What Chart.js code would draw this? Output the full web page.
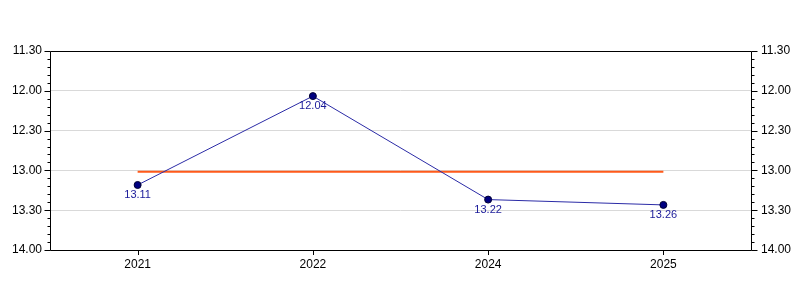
<!DOCTYPE html>
<html>
<head>
<meta charset="utf-8">
<script src="https://cdn.jsdelivr.net/npm/chart.js@4"></script>
<style>
  html, body { margin: 0; padding: 0; background: #fff; }
  #wrap { width: 800px; height: 300px; }
</style>
</head>
<body>
<div id="wrap"><canvas id="chart" width="800" height="300"></canvas></div>
<script>
// race times, in seconds (13.11 = 13 min 11 s)
const years = ["2021", "2022", "2024", "2025"];
const times = [791, 724, 802, 806];
const meanLine = [781, 781, 781, 781];
const yMin = 690, yMax = 840, majorStep = 30, minorStep = 6;

function fmt(sec) {
    const m = Math.floor(sec / 60);
    const s = Math.round(sec - m * 60);
    return m + "." + String(s).padStart(2, "0");
}

const FONT = "'Liberation Sans', Arial, sans-serif";

// frame, axis tick marks (major + minor) and point labels
const framePlugin = {
    id: "frame",
    afterDatasetsDraw(chart) {
        const { ctx, chartArea: a } = chart;
        const y = chart.scales.y;
        const x = chart.scales.x;
        ctx.save();
        ctx.strokeStyle = "#000";
        ctx.lineWidth = 1;
        ctx.beginPath();
        ctx.rect(Math.round(a.left) + 0.5, Math.round(a.top) + 0.5,
                 Math.round(a.right - a.left), Math.round(a.bottom - a.top));
        for (let v = yMin; v <= yMax; v += minorStep) {
            const py = Math.round(y.getPixelForValue(v)) + 0.5;
            const len = (v - yMin) % majorStep === 0 ? 6 : 3;
            ctx.moveTo(Math.round(a.left) + 0.5, py);
            ctx.lineTo(Math.round(a.left) + 0.5 - len, py);
            ctx.moveTo(Math.round(a.right) + 0.5, py);
            ctx.lineTo(Math.round(a.right) + 0.5 + len, py);
        }
        years.forEach((_, i) => {
            const px = Math.round(x.getPixelForValue(i)) + 0.5;
            ctx.moveTo(px, Math.round(a.bottom) + 0.5);
            ctx.lineTo(px, Math.round(a.bottom) + 5);
        });
        ctx.stroke();

        // value labels under the points
        const meta = chart.getDatasetMeta(0);
        ctx.fillStyle = "#1a1a99";
        ctx.font = "11px " + FONT;
        ctx.textAlign = "center";
        ctx.textBaseline = "middle";
        meta.data.forEach((pt, i) => {
            ctx.fillText(fmt(times[i]), pt.x, pt.y + 10);
        });
        ctx.restore();
    }
};

new Chart(document.getElementById("chart"), {
    type: "line",
    data: {
        labels: years,
        datasets: [
            {
                data: times,
                borderColor: "#2b2ba6",
                borderWidth: 1,
                pointRadius: 3.5,
                pointBackgroundColor: "#000080",
                pointBorderColor: "#000033",
                pointBorderWidth: 1,
                tension: 0,
                order: 1
            },
            {
                data: meanLine,
                borderColor: "#ff5a1a",
                borderWidth: 2,
                pointRadius: 0,
                tension: 0,
                order: 2
            }
        ]
    },
    options: {
        responsive: false,
        animation: false,
        layout: { padding: { top: 51, right: 0, bottom: 0, left: 0 } },
        plugins: { legend: { display: false }, tooltip: { enabled: false } },
        scales: {
            x: {
                offset: true,
                grid: { display: false, drawTicks: false },
                border: { display: false },
                ticks: { color: "#000", font: { family: FONT, size: 12 }, padding: 7, maxRotation: 0 },
                afterFit(s) { s.height = 50; }
            },
            y: {
                reverse: true,
                min: yMin, max: yMax,
                grid: {
                    drawTicks: false,
                    color: (c) => (c.tick && (c.tick.value === yMin || c.tick.value === yMax)) ? "rgba(0,0,0,0)" : "#d9d9d9"
                },
                border: { display: false },
                ticks: { stepSize: majorStep, callback: (v) => fmt(v), color: "#000", font: { family: FONT, size: 12 }, padding: 8 },
                afterFit(s) { s.width = 50; }
            },
            y2: {
                position: "right",
                reverse: true,
                min: yMin, max: yMax,
                grid: { display: false, drawTicks: false },
                border: { display: false },
                ticks: { stepSize: majorStep, callback: (v) => fmt(v), color: "#000", font: { family: FONT, size: 12 }, padding: 10 },
                afterFit(s) { s.width = 49; }
            }
        }
    },
    plugins: [framePlugin]
});
</script>
</body>
</html>
